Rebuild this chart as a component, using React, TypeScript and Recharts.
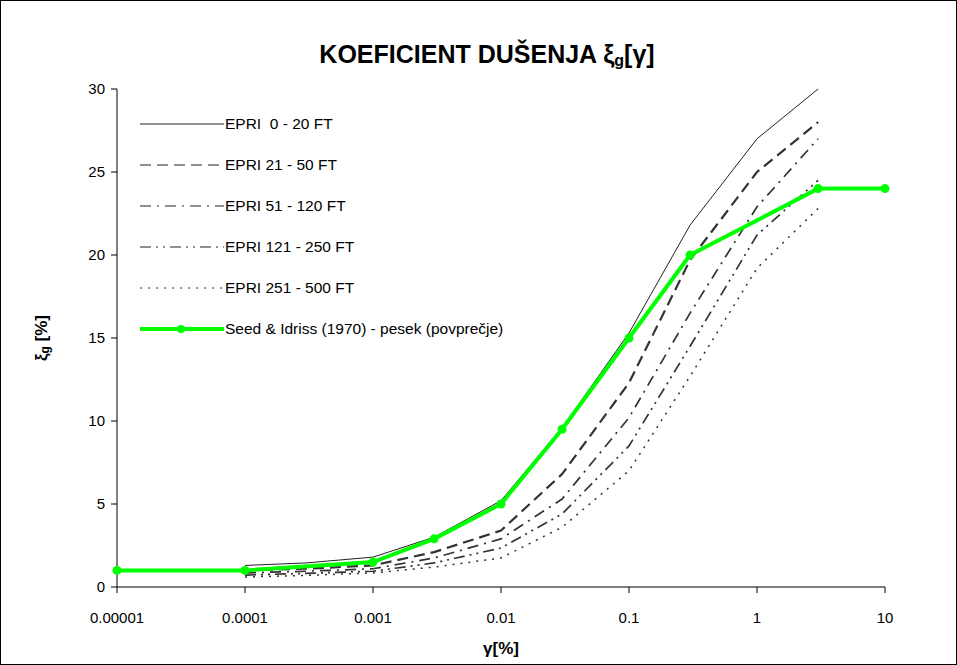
import React from "react";
import { LineChart, Line, XAxis, YAxis, Label } from "recharts";

const epriX = [0.0001, 0.0003, 0.001, 0.003, 0.01, 0.03, 0.1, 0.3, 1, 3];
const epri0_20 = [1.3, 1.45, 1.8, 3.0, 5.2, 9.6, 15.3, 21.8, 27, 30];
const epri21_50 = [1.0, 1.1, 1.3, 2.1, 3.4, 6.8, 12.3, 19.7, 25, 28];
const epri51_120 = [0.85, 0.95, 1.1, 1.75, 2.9, 5.3, 10.2, 16.5, 22.9, 27];
const epri121_250 = [0.72, 0.82, 0.95, 1.45, 2.35, 4.4, 8.5, 14.5, 21.2, 24.5];
const epri251_500 = [0.6, 0.7, 0.85, 1.2, 1.75, 3.6, 7.0, 12.7, 19.2, 22.8];

const seedX = [0.00001, 0.0001, 0.001, 0.003, 0.01, 0.03, 0.1, 0.3, 3, 10];
const seedY = [1, 1, 1.5, 2.9, 5, 9.5, 15, 20, 24, 24];

const xTicks = [0.00001, 0.0001, 0.001, 0.01, 0.1, 1, 10];
const xTickLabels = ["0.00001", "0.0001", "0.001", "0.01", "0.1", "1", "10"];
const yTicks = [0, 5, 10, 15, 20, 25, 30];

const toPts = (xs: number[], ys: number[]) => xs.map((x, i) => ({ x, y: ys[i] }));

const series = [
  { name: "EPRI  0 - 20 FT", ys: epri0_20, dash: undefined, width: 1, color: "#222" },
  { name: "EPRI 21 - 50 FT", ys: epri21_50, dash: "11 6", width: 2.2, color: "#333" },
  { name: "EPRI 51 - 120 FT", ys: epri51_120, dash: "11 6 2 6", width: 1.7, color: "#333" },
  { name: "EPRI 121 - 250 FT", ys: epri121_250, dash: "11 5 2 5 2 5", width: 1.7, color: "#333" },
  { name: "EPRI 251 - 500 FT", ys: epri251_500, dash: "2 6", width: 1.5, color: "#333" },
];

const font = "'Liberation Sans', Arial, sans-serif";

const LegendBox = () => (
  <div
    style={{
      position: "absolute",
      left: 139,
      top: 102,
      fontFamily: font,
      fontSize: 15.5,
      color: "#000",
      whiteSpace: "pre",
    }}
  >
    {series.map((s) => (
      <div key={s.name} style={{ display: "flex", alignItems: "center", height: 41 }}>
        <svg width={85} height={10}>
          <line x1={0} y1={5} x2={84} y2={5} stroke="#222" strokeWidth={1} strokeDasharray={s.dash} />
        </svg>
        <span>{s.name}</span>
      </div>
    ))}
    <div style={{ display: "flex", alignItems: "center", height: 41 }}>
      <svg width={85} height={10}>
        <line x1={0} y1={5} x2={84} y2={5} stroke="#00FF00" strokeWidth={4} />
        <circle cx={41} cy={5} r={4} fill="#00FF00" />
      </svg>
      <span>Seed &amp; Idriss (1970) - pesek (povprečje)</span>
    </div>
  </div>
);

const YTitle = (props: any) => {
  const vb = props.viewBox || {};
  const cx = 46;
  const cy = (vb.y ?? 0) + (vb.height ?? 0) / 2;
  return (
    <text
      x={cx}
      y={cy}
      transform={`rotate(-90, ${cx}, ${cy})`}
      textAnchor="middle"
      fontFamily={font}
      fontSize={17}
      fontWeight="bold"
      fill="#000"
    >
      ξ<tspan fontSize={12} dy={2}>g</tspan>
      <tspan dy={-2}> [%]</tspan>
    </text>
  );
};

export default function App() {
  return (
    <div
      style={{
        position: "absolute",
        left: 0,
        top: 0,
        width: 957,
        height: 665,
        boxSizing: "border-box",
        border: "1px solid #000",
        background: "#fff",
      }}
    >
      <LineChart
        width={955}
        height={663}
        margin={{ top: 88, right: 71, bottom: 35, left: 0 }}
      >
        <text x={486} y={62} textAnchor="middle" fontFamily={font} fontSize={25} fontWeight="bold" fill="#000">
          KOEFICIENT DUŠENJA ξ
          <tspan fontSize={16} dy={3}>g</tspan>
          <tspan dy={-3}>[γ]</tspan>
        </text>
        <XAxis
          dataKey="x"
          type="number"
          scale="log"
          domain={[0.00001, 10]}
          ticks={xTicks}
          tickFormatter={(v: number) => xTickLabels[xTicks.indexOf(v)] ?? String(v)}
          allowDuplicatedCategory={false}
          stroke="#000"
          tick={{ fill: "#000", fontSize: 15, fontFamily: font }}
          tickMargin={19}
          height={42}
        >
          <Label
            value="γ[%]"
            position="bottom"
            offset={13}
            style={{ fontFamily: font, fontSize: 17, fontWeight: "bold", fill: "#000" }}
          />
        </XAxis>
        <YAxis
          type="number"
          domain={[0, 30]}
          ticks={yTicks}
          stroke="#000"
          tick={{ fill: "#000", fontSize: 15, fontFamily: font }}
          tickMargin={6}
          width={116}
        >
          <Label content={<YTitle />} />
        </YAxis>
        {series.map((s) => (
          <Line
            key={s.name}
            data={toPts(epriX, s.ys)}
            dataKey="y"
            name={s.name}
            type="linear"
            stroke={s.color}
            strokeWidth={s.width}
            strokeDasharray={s.dash}
            dot={false}
            activeDot={false}
            isAnimationActive={false}
          />
        ))}
        <Line
          data={toPts(seedX, seedY)}
          dataKey="y"
          name="Seed & Idriss (1970) - pesek (povprečje)"
          type="linear"
          stroke="#00FF00"
          strokeWidth={4}
          dot={{ r: 4.5, fill: "#00FF00", stroke: "#00FF00", strokeWidth: 0 }}
          activeDot={false}
          isAnimationActive={false}
        />
      </LineChart>
      <LegendBox />
    </div>
  );
}
